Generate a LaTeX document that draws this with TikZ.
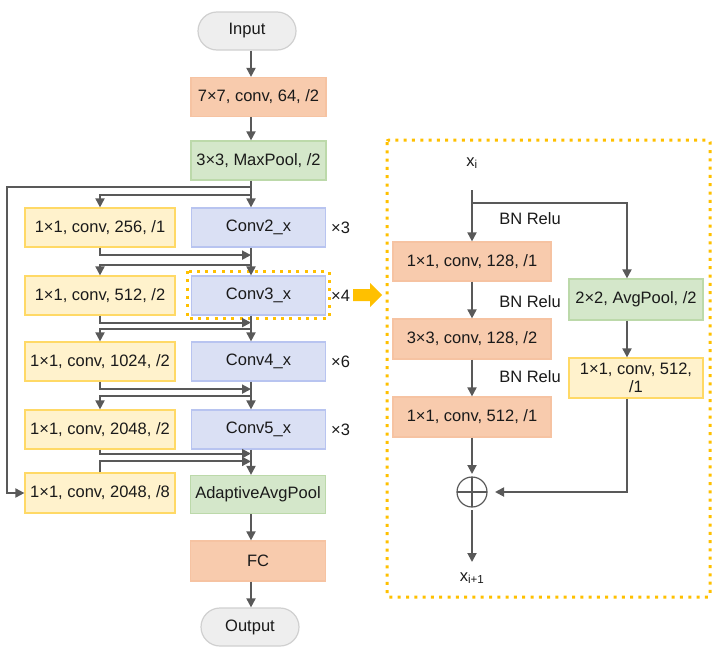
\documentclass[tikz,border=0pt]{standalone}
\usepackage{fontspec}
\setmainfont{Liberation Sans}
\usetikzlibrary{arrows.meta,calc}
\definecolor{lineg}{HTML}{595959}
\definecolor{orF}{HTML}{F8CBAD}
\definecolor{orD}{HTML}{F6C3A2}
\definecolor{grF}{HTML}{D4E7CA}
\definecolor{grD}{HTML}{BCD9AA}
\definecolor{blF}{HTML}{DAE0F4}
\definecolor{blD}{HTML}{B8C4F0}
\definecolor{ylF}{HTML}{FFF2CC}
\definecolor{ylD}{HTML}{FFD966}
\definecolor{pgF}{HTML}{EEEEEE}
\definecolor{pgD}{HTML}{D0D0D0}
\definecolor{dotc}{HTML}{FFC000}
\definecolor{txt}{HTML}{1A1A1A}
\tikzset{
  box/.style={line width=1.2pt, minimum height=39pt, inner sep=2pt, align=center, text=txt,
    font=\fontsize{16.5}{19}\selectfont},
  obox/.style={box, fill=orF, draw=orD},
  gbox/.style={box, fill=grF, draw=grD},
  bbox/.style={box, fill=blF, draw=blD},
  ybox/.style={box, fill=ylF, draw=ylD},
  pill/.style={box, fill=pgF, draw=pgD, rounded corners=19pt, minimum width=98pt, minimum height=38pt},
  lbl/.style={text=txt, font=\fontsize{16.5}{19}\selectfont, inner sep=0pt},
  arr/.style={draw=lineg, line width=1.9pt, -{Triangle[length=9pt,width=9pt]}},
  dotbox/.style={draw=dotc, line width=3pt, dash pattern=on 3pt off 5.3pt},
}
\begin{document}
\begin{tikzpicture}[x=1pt,y=-1pt]
\useasboundingbox (0,0) rectangle (719,656);
\coordinate (mx) at (251,0);
\coordinate (lx) at (7,0);
% main column
\node[pill] (input) at (247,31) {Input};
\node[obox, minimum width=135pt] (c7) at (258.5,97) {7×7, conv, 64, /2};
\node[gbox, minimum width=135pt] (mp) at (258.5,160.5) {3×3, MaxPool, /2};
\node[bbox, minimum width=134pt] (conv2) at (258.5,227.5) {Conv2\_x};
\node[bbox, minimum width=134pt] (conv3) at (258.5,295.5) {Conv3\_x};
\node[bbox, minimum width=134pt] (conv4) at (258.5,361.5) {Conv4\_x};
\node[bbox, minimum width=134pt] (conv5) at (258.5,429.5) {Conv5\_x};
\node[gbox, minimum width=135pt, minimum height=38pt] (aap) at (258,494.5) {AdaptiveAvgPool};
\node[obox, minimum width=135pt, minimum height=40pt] (fc) at (258,561) {FC};
\node[pill] (output) at (250,627) {Output};
% left column
\node[ybox, minimum width=150pt] (l1) at (100,227.5) {1×1, conv, 256, /1};
\node[ybox, minimum width=150pt] (l2) at (100,295.5) {1×1, conv, 512, /2};
\node[ybox, minimum width=150pt] (l3) at (100,361.5) {1×1, conv, 1024, /2};
\node[ybox, minimum width=150pt] (l4) at (100,429.5) {1×1, conv, 2048, /2};
\node[ybox, minimum width=150pt, minimum height=40pt] (l5) at (100,493) {1×1, conv, 2048, /8};
% repeat labels
\node[lbl, anchor=west] (r2) at (331,227.5) {×3};
\node[lbl, anchor=west] (r3) at (331,295.5) {×4};
\node[lbl, anchor=west] (r4) at (331,361.5) {×6};
\node[lbl, anchor=west] (r5) at (331,429.5) {×3};
% highlight of Conv3_x
\draw[dotbox] (187,271) rectangle (329,318);
% main arrows
\draw[arr] (input.south -| mx) -- (c7.north -| mx);
\draw[arr] (c7.south -| mx) -- (mp.north -| mx);
\draw[arr] (mp.south -| mx) -- (conv2.north -| mx);
\draw[arr] (conv2.south -| mx) -- (conv3.north -| mx);
\draw[arr] (conv3.south -| mx) -- (conv4.north -| mx);
\draw[arr] (conv4.south -| mx) -- (conv5.north -| mx);
\draw[arr] (conv5.south -| mx) -- (aap.north -| mx);
\draw[arr] (aap.south -| mx) -- (fc.north -| mx);
\draw[arr] (fc.south -| mx) -- (output.north -| mx);
% big skip to l5
\draw[arr] ($(mp.south -| mx)+(0,6)$) -- ($(mp.south -| lx)+(0,6)$) |- (l5.west);
% branch into l1
\draw[arr] ($(mp.south -| mx)+(0,14)$) -| (l1.north);
% joins and branches
\draw[arr] (l1.south) |- ($(l1.south -| mx)+(0,7.5)$);
\draw[arr] ($(l1.south -| mx)+(0,17.5)$) -| (l2.north);
\draw[arr] (l2.south) |- ($(l2.south -| mx)+(0,7)$);
\draw[arr] ($(l2.south -| mx)+(0,13.5)$) -| (l3.north);
\draw[arr] (l3.south) |- ($(l3.south -| mx)+(0,7.5)$);
\draw[arr] ($(l3.south -| mx)+(0,14.5)$) -| (l4.north);
\draw[arr] (l4.south) |- ($(l4.south -| mx)+(0,4)$);
\draw[arr] (l5.north) |- ($(l5.north -| mx)+(0,-11)$);
% big orange arrow
\fill[dotc] (353,289) -- (370,289) -- (370,283) -- (382,295) -- (370,307) -- (370,301) -- (353,301) -- cycle;
% right panel
\draw[dotbox, rounded corners=2pt] (387,140) rectangle (710,597);
\node[lbl] (xi) at (472,163) {x\textsubscript{i}};
\coordinate (top) at (472,190);
\node[obox, minimum width=158pt] (ba) at (472,261.5) {1×1, conv, 128, /1};
\node[obox, minimum width=158pt, minimum height=40pt] (bb) at (472,339) {3×3, conv, 128, /2};
\node[obox, minimum width=158pt, minimum height=40pt] (bc) at (472,417) {1×1, conv, 512, /1};
\node[gbox, minimum width=134pt, minimum height=41pt] (avg) at (636,299.5) {2×2, AvgPool, /2};
\node[ybox, minimum width=134pt, minimum height=40pt, font=\fontsize{16.5}{18.5}\selectfont] (yb) at (636,378) {1×1, conv, 512,\\/1};
\coordinate (sx) at (627,0);
\node[circle, draw=lineg, line width=1.2pt, minimum size=30pt, inner sep=0pt, outer sep=3pt] (plus) at (472,492) {};
\draw[lineg, line width=1.2pt] (plus.center) ++(0,-15) -- ++(0,30);
\draw[lineg, line width=1.2pt] (plus.center) ++(-15,0) -- ++(30,0);
\coordinate (outp) at (472,562);
\node[lbl] (xo) at (472,578) {x\textsubscript{i+1}};
\node[lbl] (bn1) at (530,219) {BN Relu};
\node[lbl] (bn2) at (530,302) {BN Relu};
\node[lbl] (bn3) at (530,377) {BN Relu};
\draw[arr] (top) -- (ba.north);
\draw[arr] ($(top)+(0,13)$) -| (avg.north -| sx);
\draw[arr] (ba.south) -- (bb.north);
\draw[arr] (bb.south) -- (bc.north);
\draw[arr] (bc.south) -- (plus.north);
\draw[arr] (avg.south -| sx) -- (yb.north -| sx);
\draw[arr, shorten >=5pt] (yb.south -| sx) |- (plus.east);
\draw[arr] (plus.south) -- (outp);
\end{tikzpicture}
\end{document}
